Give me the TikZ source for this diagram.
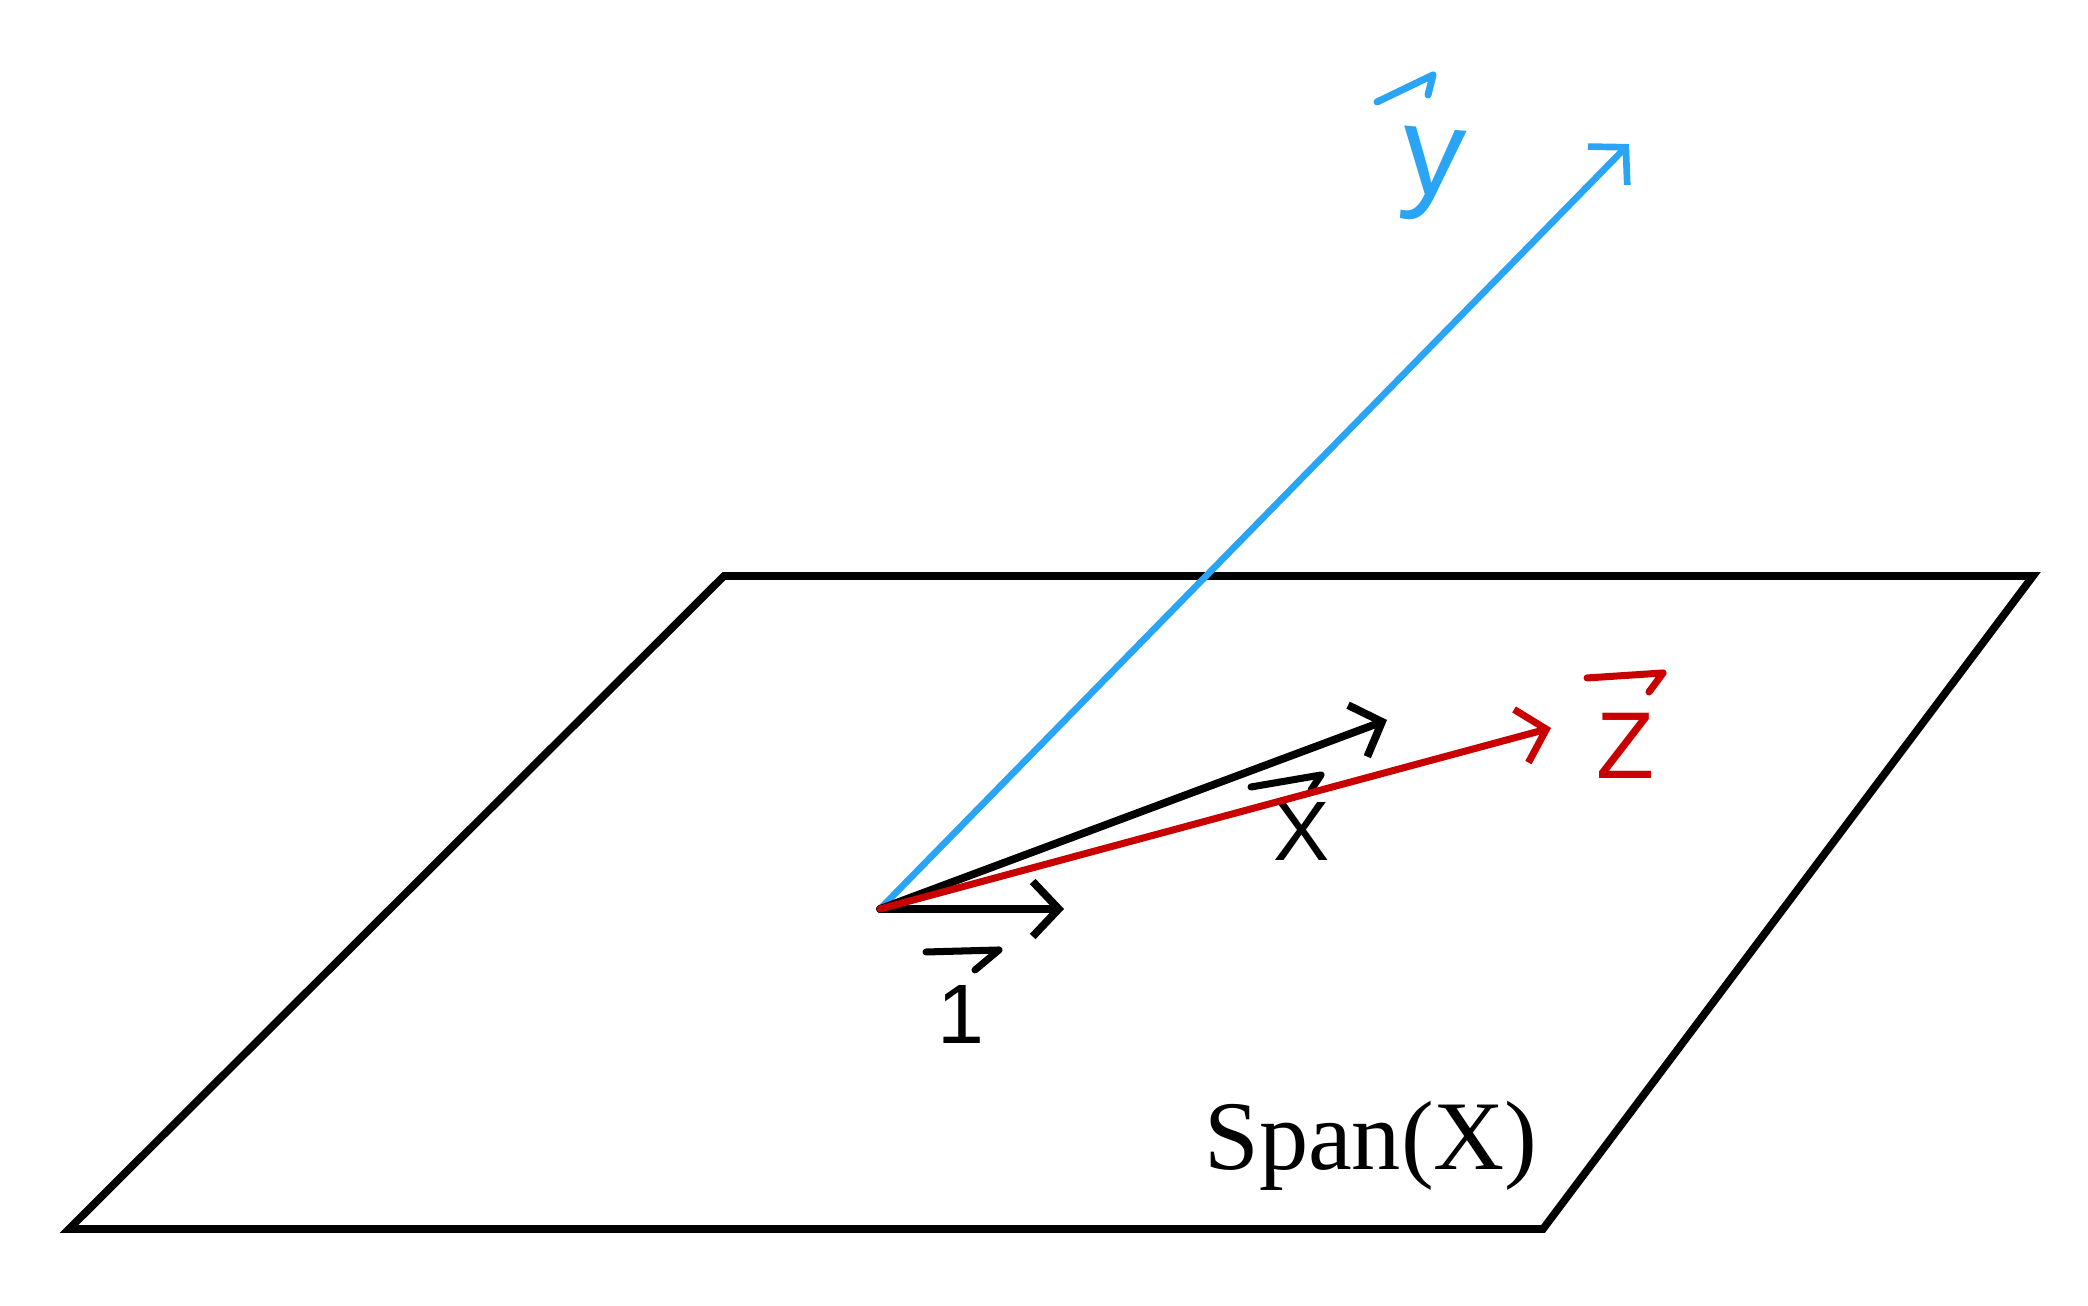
\documentclass[tikz,border=0pt]{standalone}
\usepackage{fontspec}
\setmainfont{Liberation Serif}
\newfontfamily\handfont{Liberation Sans}
\usetikzlibrary{arrows.meta}
\definecolor{yblue}{RGB}{42,165,245}
\definecolor{zred}{RGB}{200,0,0}
\newcommand{\labsize}[1]{\fontsize{#1}{#1}\selectfont}

\begin{document}
\begin{tikzpicture}[>={Straight Barb[length=2.6mm,width=5.5mm]}, line width=2pt,
    line cap=round, font=\fontsize{28}{30}\selectfont]
    \tikzset{hook/.style={line width=2pt, line cap=round, line join=round}}
    \useasboundingbox (0,0) rectangle (20.88,13.06);

    \coordinate (BL) at (0.69,0.77);
    \coordinate (BR) at (15.43,0.77);
    \coordinate (TR) at (20.33,7.30);
    \coordinate (TL) at (7.24,7.30);
    \coordinate (O)  at (8.80,3.97);
    \coordinate (Y)  at (16.29,11.62);
    \coordinate (X)  at (13.87,5.86);
    \coordinate (Z)  at (15.51,5.78);
    \coordinate (I)  at (10.64,3.97);

    \node[yblue, font=\handfont\labsize{36}, rotate=-5] at (14.32,11.31) (Ylab) {y};
    \node[zred, font=\handfont\labsize{27}]  at (16.25,5.60)  (Zlab) {Z};
    \node[font=\handfont\labsize{24}]        at (13.02,4.74)  (Xlab) {X};
    \node[font=\handfont\labsize{24}]        at (9.61,2.92)   (Ilab) {1};
    \node[anchor=base] at (13.71,1.36) (span) {Span(X)};

    % little arrows over the letters
    \draw[hook, yblue] (Ylab.center) ++(-0.55,0.73) -- ++(0.56,0.27) -- ++(-0.05,-0.20);
    \draw[hook, zred]  (Zlab.center) ++(-0.38,0.68) -- ++(0.76,0.05) -- ++(-0.14,-0.19);
    \draw[hook]        (Xlab.center) ++(-0.51,0.45) -- ++(0.70,0.12) -- ++(-0.10,-0.15);
    \draw[hook]        (Ilab.center) ++(-0.35,0.62) -- ++(0.73,0.02) -- ++(-0.24,-0.20);

    \draw[line width=2.2pt, line cap=butt] (BL) -- (BR) -- (TR) -- (TL) -- cycle;
    \draw[->, yblue, line width=1.9pt] (O) -- (Y);
    \draw[->, line width=2.2pt] (O) -- (X);
    \draw[->, line width=2.2pt] (O) -- (I);
    \draw[->, zred] (O) -- (Z);
\end{tikzpicture}
\end{document}
